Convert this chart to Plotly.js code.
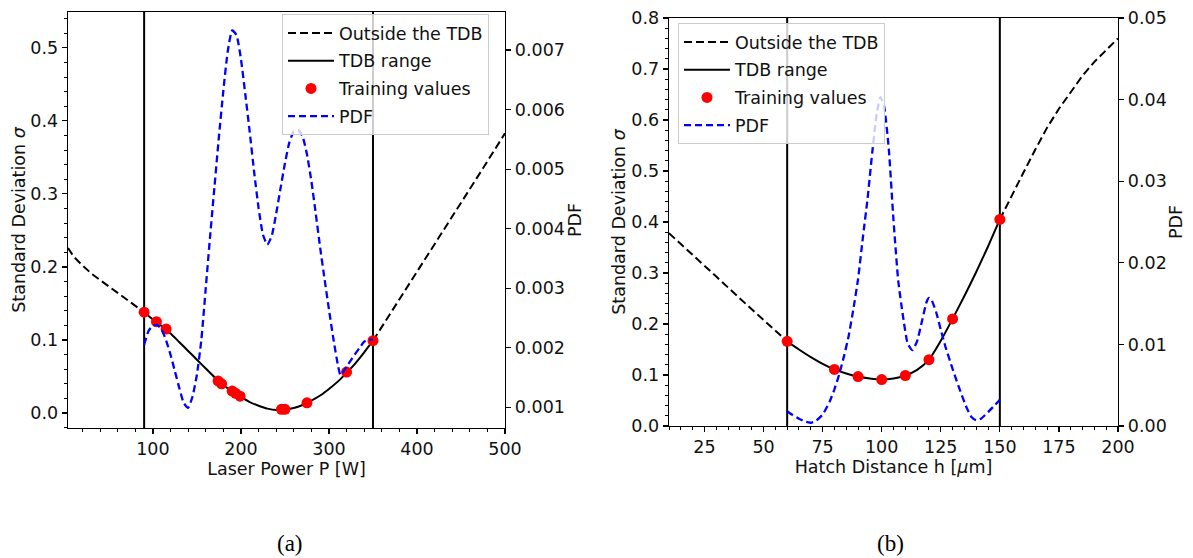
<!DOCTYPE html>
<html>
<head>
<meta charset="utf-8">
<script src="https://cdn.plot.ly/plotly-3.0.1.min.js"></script>
<style>
  html, body { margin: 0; padding: 0; background: #ffffff; }
  #chart { width: 1193px; height: 558px; }
</style>
</head>
<body>
<div id="chart"></div>
<script>
// ---------------- Panel (a): Laser Power ----------------
const tdbA = [90, 350];
const sigOutLeftAx = [3.5, 10, 20, 30, 40, 50, 60, 70, 80, 90];
const sigOutLeftAy = [0.226, 0.214, 0.202, 0.191, 0.182, 0.173, 0.164, 0.156, 0.147, 0.138];
const sigOutRightAx = [350, 375, 400, 425, 450, 475, 500];
const sigOutRightAy = [0.099, 0.146, 0.193, 0.240, 0.288, 0.335, 0.383];
const sigInAx = [90, 100, 110, 120, 130, 140, 150, 160, 170, 180, 190, 200, 210, 220, 230, 240, 250, 260, 270, 280, 290, 300, 310, 320, 330, 340, 350];
const sigInAy = [0.138, 0.128, 0.119, 0.109, 0.097, 0.085, 0.073, 0.061, 0.049, 0.038, 0.030, 0.022, 0.015, 0.010, 0.006, 0.004, 0.005, 0.007, 0.011, 0.017, 0.024, 0.033, 0.043, 0.055, 0.068, 0.083, 0.099];
const trainAx = [90, 104, 115, 174, 178, 190, 194, 199, 246, 250, 275, 320, 350];
const trainAy = [0.138, 0.125, 0.115, 0.044, 0.040, 0.030, 0.027, 0.023, 0.005, 0.005, 0.014, 0.056, 0.099];
const pdfAx = [90, 95, 100, 105, 110, 115, 120, 125, 130, 135, 140, 145, 150, 155, 160, 165, 170, 175, 180, 185, 190, 195, 200, 205, 210, 215, 220, 225, 230, 235, 240, 245, 250, 255, 260, 265, 270, 275, 280, 285, 290, 295, 300, 305, 310, 313, 315, 320, 325, 330, 335, 340, 345, 350];
const pdfAy = [0.00205, 0.00228, 0.00237, 0.00238, 0.00230, 0.00212, 0.00188, 0.00160, 0.00132, 0.00107, 0.00099, 0.00118, 0.00155, 0.00213, 0.00300, 0.00388, 0.00472, 0.00555, 0.00632, 0.00698, 0.00733, 0.00725, 0.00685, 0.00625, 0.00562, 0.00495, 0.00435, 0.00390, 0.00373, 0.00388, 0.00425, 0.00468, 0.00510, 0.00545, 0.00563, 0.00566, 0.00555, 0.00525, 0.00480, 0.00425, 0.00368, 0.00315, 0.00264, 0.00215, 0.00172, 0.00154, 0.00157, 0.00168, 0.00179, 0.00190, 0.00200, 0.00210, 0.00214, 0.00213];

// ---------------- Panel (b): Hatch Distance ----------------
const tdbB = [60, 150];
const sigOutLeftBx = [10, 20, 30, 40, 50, 60];
const sigOutLeftBy = [0.378, 0.336, 0.293, 0.250, 0.208, 0.166];
const sigOutRightBx = [150, 155, 160, 165, 170, 175, 180, 185, 190, 195, 200];
const sigOutRightBy = [0.405, 0.452, 0.497, 0.542, 0.585, 0.622, 0.655, 0.687, 0.714, 0.738, 0.760];
const sigInBx = [60, 65, 70, 75, 80, 85, 90, 95, 100, 105, 110, 115, 120, 125, 130, 135, 140, 145, 150];
const sigInBy = [0.166, 0.150, 0.135, 0.122, 0.111, 0.103, 0.097, 0.093, 0.091, 0.093, 0.099, 0.110, 0.130, 0.167, 0.210, 0.255, 0.302, 0.352, 0.405];
const trainBx = [60, 80, 90, 100, 110, 120, 130, 150];
const trainBy = [0.166, 0.111, 0.097, 0.091, 0.099, 0.130, 0.210, 0.405];
const pdfBx = [60, 62, 65, 68, 70, 72, 75, 78, 80, 82, 84, 86, 88, 90, 92, 94, 96, 98, 99.5, 101, 103, 105, 107, 109, 111, 113, 115, 117, 119, 120, 121, 123, 125, 127, 130, 133, 136, 138, 140, 142, 145, 148, 150];
const pdfBy = [0.0018, 0.0014, 0.0009, 0.0005, 0.0004, 0.0006, 0.0014, 0.0030, 0.0045, 0.0063, 0.0085, 0.0110, 0.0143, 0.0180, 0.0230, 0.0278, 0.0335, 0.0385, 0.0403, 0.0392, 0.0340, 0.0252, 0.0178, 0.0135, 0.0101, 0.0093, 0.0104, 0.0128, 0.0152, 0.0157, 0.0155, 0.0140, 0.0118, 0.0097, 0.0070, 0.0045, 0.0022, 0.0011, 0.0007, 0.0009, 0.0017, 0.0026, 0.0032];

// ---------------- Text ----------------
const legendNames = ["Outside the TDB", "TDB range", "Training values", "PDF"];
const xTitleA = "Laser Power P [W]";
const xTitleB = "Hatch Distance h [<i>μ</i>m]";
const yTitle = "Standard Deviation <i>σ</i>";
const y2Title = "PDF";
const captions = ["(a)", "(b)"];

// ---------------- Styles ----------------
const FONT = "DejaVu Sans";
const FS = 17.5;
const blackDash = {color: "#000000", width: 2, dash: "8px,4px"};
const blackSolid = {color: "#000000", width: 2};
const blueDash = {color: "#0000ff", width: 2.3, dash: "7px,4px"};

function joinGap(x1, y1, x2, y2) {
  return {x: x1.concat([null], x2), y: y1.concat([null], y2)};
}

function panelTraces(p, xa, ya, ya2, leg, outL, outLy, outR, outRy, inX, inY, trX, trY, pX, pY) {
  const out = joinGap(outL, outLy, outR, outRy);
  return [
    {x: out.x, y: out.y, xaxis: xa, yaxis: ya, type: "scatter", mode: "lines",
     name: legendNames[0], line: blackDash, legend: leg, legendgroup: p + "g0", connectgaps: false},
    {x: inX, y: inY, xaxis: xa, yaxis: ya, type: "scatter", mode: "lines",
     name: legendNames[1], line: Object.assign({shape: "spline", smoothing: 0.6}, blackSolid), legend: leg, legendgroup: p + "g1"},
    {x: trX, y: trY, xaxis: xa, yaxis: ya, type: "scatter", mode: "markers",
     name: legendNames[2], marker: {color: "#ff0000", size: 11}, legend: leg, legendgroup: p + "g2"},
    {x: pX, y: pY, xaxis: xa, yaxis: ya2, type: "scatter", mode: "lines",
     name: legendNames[3], line: Object.assign({shape: "spline", smoothing: 0.5}, blueDash), legend: leg, legendgroup: p + "g3"}
  ];
}

const data = []
  .concat(panelTraces("a", "x", "y", "y2", "legend", sigOutLeftAx, sigOutLeftAy, sigOutRightAx, sigOutRightAy,
                      sigInAx, sigInAy, trainAx, trainAy, pdfAx, pdfAy))
  .concat(panelTraces("b", "x2", "y3", "y4", "legend2", sigOutLeftBx, sigOutLeftBy, sigOutRightBx, sigOutRightBy,
                      sigInBx, sigInBy, trainBx, trainBy, pdfBx, pdfBy));

const W = 1193, H = 558;
const tickFont = {family: FONT, size: FS, color: "#111111"};
const titleFont = {family: FONT, size: FS, color: "#111111"};

function baseAxis(extra) {
  return Object.assign({
    showgrid: false, zeroline: false, showline: true, linecolor: "#000000", linewidth: 1.3,
    ticks: "outside", ticklen: 5, tickwidth: 1.2, tickcolor: "#000000",
    tickfont: tickFont, automargin: false, fixedrange: true
  }, extra);
}

const legendBase = {
  xanchor: "left", yanchor: "top", bgcolor: "rgba(255,255,255,0.8)",
  bordercolor: "#cccccc", borderwidth: 1, font: {family: FONT, size: FS, color: "#111111"},
  itemwidth: 46, tracegroupgap: 2
};

const layout = {
  width: W, height: H,
  margin: {l: 0, r: 0, t: 0, b: 0},
  paper_bgcolor: "#ffffff", plot_bgcolor: "#ffffff",
  font: {family: FONT, size: FS, color: "#111111"},
  showlegend: true,
  xaxis: baseAxis({
    domain: [68 / W, 505 / W], anchor: "y", range: [3.5, 500], mirror: true,
    tickvals: [100, 200, 300, 400, 500],
    minor: {ticks: "outside", ticklen: 3, tickwidth: 1, tickcolor: "#000000", dtick: 20, tick0: 0},
    title: {text: xTitleA, font: titleFont, standoff: 3}
  }),
  yaxis: baseAxis({
    domain: [1 - 428 / H, 1 - 12 / H], anchor: "x", range: [-0.0205, 0.549], mirror: true,
    tickvals: [0, 0.1, 0.2, 0.3, 0.4, 0.5], tickformat: ".1f",
    minor: {ticks: "outside", ticklen: 3, tickwidth: 1, tickcolor: "#000000", dtick: 0.02, tick0: 0},
    title: {text: yTitle, font: titleFont, standoff: 0}
  }),
  yaxis2: baseAxis({
    overlaying: "y", side: "right", anchor: "x", range: [0.00065, 0.00764],
    tickvals: [0.001, 0.002, 0.003, 0.004, 0.005, 0.006, 0.007], tickformat: ".3f",
    title: {text: y2Title, font: titleFont, standoff: 4}
  }),
  xaxis2: baseAxis({
    domain: [669 / W, 1118 / W], anchor: "y3", range: [10, 200], mirror: true,
    tickvals: [25, 50, 75, 100, 125, 150, 175, 200],
    minor: {ticks: "outside", ticklen: 3, tickwidth: 1, tickcolor: "#000000", dtick: 5, tick0: 0},
    title: {text: xTitleB, font: titleFont, standoff: 3}
  }),
  yaxis3: baseAxis({
    domain: [1 - 426 / H, 1 - 18 / H], anchor: "x2", range: [0, 0.8], mirror: true,
    tickvals: [0, 0.1, 0.2, 0.3, 0.4, 0.5, 0.6, 0.7, 0.8], tickformat: ".1f",
    minor: {ticks: "outside", ticklen: 3, tickwidth: 1, tickcolor: "#000000", dtick: 0.02, tick0: 0},
    title: {text: yTitle, font: titleFont, standoff: 1}
  }),
  yaxis4: baseAxis({
    overlaying: "y3", side: "right", anchor: "x2", range: [0, 0.05],
    tickvals: [0, 0.01, 0.02, 0.03, 0.04, 0.05], tickformat: ".2f",
    title: {text: y2Title, font: titleFont, standoff: 4}
  }),
  legend: Object.assign({x: 282 / W, y: 1 - 14 / H}, legendBase),
  legend2: Object.assign({x: 678 / W, y: 1 - 23 / H}, legendBase),
  shapes: tdbA.map(v => ({type: "line", xref: "x", yref: "y domain", x0: v, x1: v, y0: 0, y1: 1,
                           line: {color: "#000000", width: 2}, layer: "below"}))
    .concat(tdbB.map(v => ({type: "line", xref: "x2", yref: "y3 domain", x0: v, x1: v, y0: 0, y1: 1,
                             line: {color: "#000000", width: 2}, layer: "below"}))),
  annotations: [
    {text: captions[0], xref: "paper", yref: "paper", x: 290 / W, y: 1 - 543 / H, xanchor: "center", yanchor: "middle",
     showarrow: false, font: {family: "Liberation Serif", size: 23, color: "#000000"}},
    {text: captions[1], xref: "paper", yref: "paper", x: 890 / W, y: 1 - 543 / H, xanchor: "center", yanchor: "middle",
     showarrow: false, font: {family: "Liberation Serif", size: 23, color: "#000000"}}
  ]
};

Plotly.newPlot("chart", data, layout, {staticPlot: true, displayModeBar: false});
</script>
</body>
</html>
